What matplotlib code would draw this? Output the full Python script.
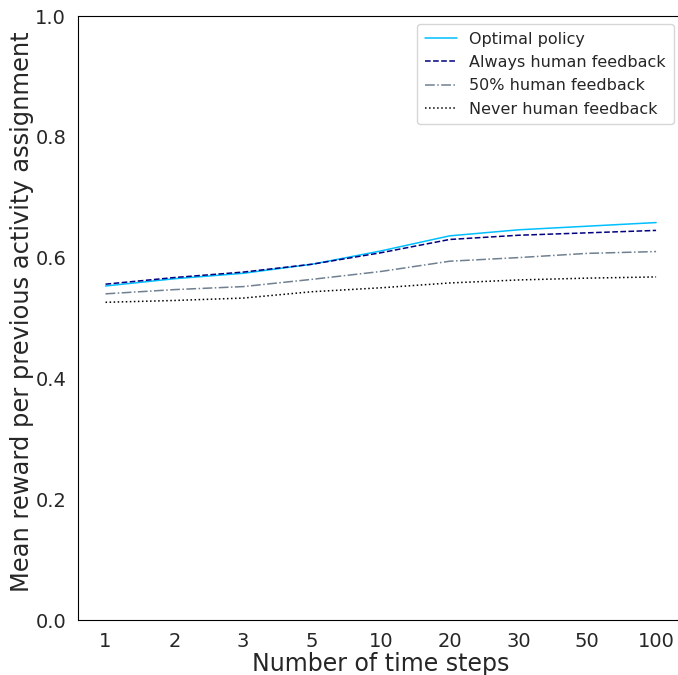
import numpy as np
import seaborn as sns
from matplotlib import pyplot as plt

steps = ['1', '2', '3', '5', '10', '20', '30', '50', '100']
optimal = [0.553, 0.565, 0.574, 0.589, 0.611, 0.636, 0.646, 0.652, 0.658]
always_fb = [0.556, 0.567, 0.576, 0.589, 0.608, 0.630, 0.637, 0.641, 0.645]
half_fb = [0.540, 0.547, 0.552, 0.564, 0.577, 0.594, 0.600, 0.607, 0.610]
never_fb = [0.526, 0.529, 0.533, 0.5435, 0.550, 0.558, 0.563, 0.566, 0.568]

sns.set_style('white')
plt.rcParams['font.family'] = ['DejaVu Sans']

fig = plt.figure(figsize=(6.78, 6.75), dpi=100)
# right spine falls just outside the saved picture
ax = fig.add_axes([78 / 678, 55 / 675, 605.6 / 678, 604 / 675])

x = np.arange(len(steps))
ax.plot(x, optimal, color='deepskyblue', lw=1.1, label='Optimal policy')
ax.plot(x, always_fb, color='navy', lw=1.1, ls='--', label='Always human feedback')
ax.plot(x, half_fb, color='slategray', lw=1.1, ls='-.', label='50% human feedback')
ax.plot(x, never_fb, color='black', lw=1.1, ls=':', label='Never human feedback')

ax.set_xticks(x)
ax.set_xticklabels(steps)
ax.set_ylim(0, 1)
ax.set_yticks([0, 0.2, 0.4, 0.6, 0.8, 1.0])
ax.tick_params(labelsize=14, colors='#262626', pad=5)
ax.set_xlabel('Number of time steps', fontsize=17, color='#262626', labelpad=1)
ax.set_ylabel('Mean reward per previous activity assignment', fontsize=17.4,
              color='#262626', labelpad=1)
ax.yaxis.label.set_y(0.51)
for s in ax.spines.values():
    s.set_color('black')
    s.set_linewidth(0.8)

ax.legend(loc='upper right', fontsize=11.5, labelcolor='#262626',
          borderpad=0.48, labelspacing=0.52, bbox_to_anchor=(1 - 2 / 605.6, 1))

fig.savefig('out.png', dpi=100)
